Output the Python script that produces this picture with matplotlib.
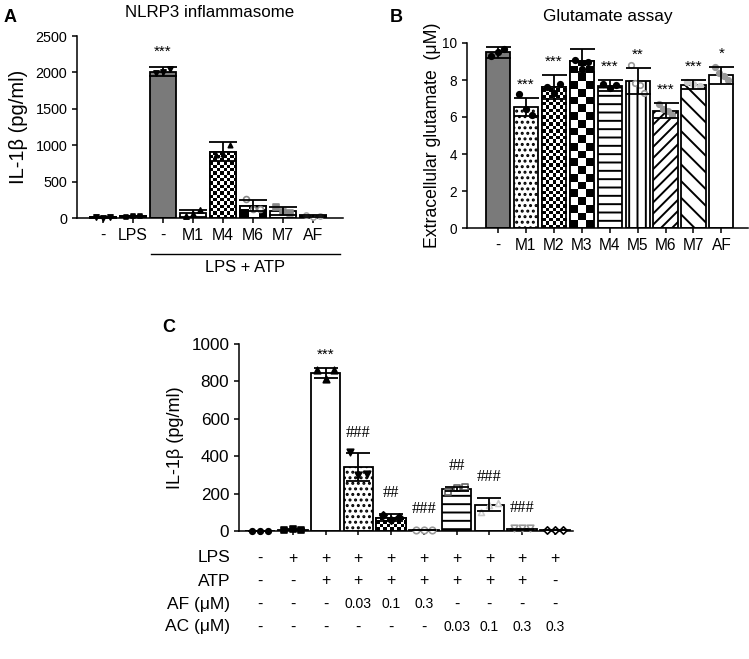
import numpy as np
import matplotlib
matplotlib.use("Agg")
import matplotlib.pyplot as plt
from matplotlib.transforms import blended_transform_factory

plt.rcParams['font.family'] = ['Liberation Sans', 'DejaVu Sans']
plt.rcParams['hatch.linewidth'] = 1.4
plt.rcParams['axes.linewidth'] = 1.1

# ---- panel A: NLRP3 inflammasome ----
a_labels = ['-', 'LPS', '-', 'M1', 'M4', 'M6', 'M7', 'AF']
a_means = [7, 25, 2010, 63, 910, 170, 100, 30]
a_sds = [6, 5, 60, 45, 130, 80, 55, 10]
a_points = [[12, 2, 8], [20, 25, 30], [1985, 2010, 2040], [30, 50, 110],
            [860, 880, 1000], [260, 120, 130], [150, 85, 65], [40, 20, 30]]
a_stars = ['', '', '***', '', '', '', '', '']

# ---- panel B: glutamate assay ----
b_labels = ['-', 'M1', 'M2', 'M3', 'M4', 'M5', 'M6', 'M7', 'AF']
b_means = [9.5, 6.55, 7.6, 9.05, 7.7, 7.95, 6.35, 7.75, 8.25]
b_sds = [0.3, 0.5, 0.65, 0.6, 0.3, 0.7, 0.4, 0.25, 0.45]
b_points = [[9.3, 9.5, 9.65], [7.25, 6.45, 6.1], [7.6, 7.3, 7.8], [9.1, 8.6, 9.0],
            [7.8, 7.55, 7.75], [8.8, 7.85, 7.75, 7.3], [6.7, 6.45, 6.3, 6.1],
            [7.9, 7.8, 7.7], [8.7, 8.4, 8.2, 8.0]]
b_stars = ['', '***', '***', '', '***', '**', '***', '***', '*']

# ---- panel C: IL-1b dose response ----
c_means = [0, 7, 845, 340, 72, 5, 225, 140, 10, 5]
c_sds = [0, 3, 25, 75, 18, 2, 12, 35, 3, 2]
c_points = [[0, 0, 0], [5, 10, 7], [860, 815, 860], [420, 300, 305], [85, 60, 75],
            [5, 5, 5], [210, 230, 235], [100, 140, 150], [15, 15, 15], [5, 5, 5]]
c_marks = ['', '', '***', '###', '##', '###', '##', '###', '###', '']
c_rows = ['LPS', 'ATP', 'AF (\u03bcM)', 'AC (\u03bcM)']
c_lps = ['-', '+', '+', '+', '+', '+', '+', '+', '+', '+']
c_atp = ['-', '-', '+', '+', '+', '+', '+', '+', '+', '-']
c_af = ['-', '-', '-', '0.03', '0.1', '0.3', '-', '-', '-', '-']
c_ac = ['-', '-', '-', '-', '-', '-', '0.03', '0.1', '0.3', '0.3']

W, H = 749, 659
fig = plt.figure(figsize=(W / 100, H / 100), dpi=100)


def px_axes(x0, x1, y_top, y_bot):
    return fig.add_axes([x0 / W, 1 - y_bot / H, (x1 - x0) / W, (y_bot - y_top) / H])


def checker(ax, rect, cell):
    # checkerboard texture clipped to a bar
    x0, y0 = rect.get_x(), rect.get_y()
    w, h = rect.get_width(), rect.get_height()
    p0 = ax.transData.transform((x0, y0))
    p1 = ax.transData.transform((x0 + w, y0 + h))
    nx = int(np.ceil(abs(p1[0] - p0[0]) / cell))
    ny = int(np.ceil(abs(p1[1] - p0[1]) / cell))
    if nx < 1 or ny < 1:
        return
    grid = (np.add.outer(np.arange(ny), np.arange(nx)) % 2).astype(float)
    cw = w / (abs(p1[0] - p0[0]) / cell)
    ch = h / (abs(p1[1] - p0[1]) / cell)
    im = ax.imshow(grid, cmap='gray', extent=(x0, x0 + nx * cw, y0, y0 + ny * ch),
                   origin='lower', interpolation='nearest', aspect='auto', zorder=1.5)
    im.set_clip_path(rect)


def draw_bars(ax, means, sds, points, styles, width, capsize, xlim, ylim):
    ax.set_xlim(*xlim)
    ax.set_ylim(*ylim)
    x = np.arange(len(means))
    for i, (m, st) in enumerate(zip(means, styles)):
        kind = st.get('kind', 'plain')
        face = st.get('face', 'white')
        b = ax.bar(x[i], m, width=width, color=face, edgecolor='black',
                   linewidth=1.3, hatch=st.get('hatch'), zorder=1)[0]
        if kind == 'checker':
            checker(ax, b, st['cell'])
            ax.bar(x[i], m, width=width, color='none', edgecolor='black',
                   linewidth=1.3, zorder=2)
        pts = points[i]
        offs = np.linspace(-width * 0.28, width * 0.28, len(pts))
        ax.scatter(x[i] + offs, pts, s=st.get('ms', 16), marker=st.get('marker', 'o'),
                   facecolor=st.get('mface', 'black'), edgecolor=st.get('medge', 'black'),
                   linewidth=1.2, zorder=3, clip_on=False)
        ax.errorbar(x[i], m, yerr=sds[i], color='black', capsize=capsize,
                    elinewidth=1.3, capthick=1.3, zorder=4, fmt='none')
    ax.spines['top'].set_visible(False)
    ax.spines['right'].set_visible(False)
    ax.tick_params(direction='out', length=3.5, width=1.1, colors='black')
    return x


def marks(ax, xs, means, sds, texts, off_star, off_hash):
    for i, s in enumerate(texts):
        if not s:
            continue
        if s.startswith('#'):
            ax.annotate(s, (xs[i], means[i] + sds[i]), xytext=(0, off_hash), textcoords='offset points',
                        ha='center', va='center', fontsize=11.8, family='Liberation Serif')
        else:
            ax.annotate(s, (xs[i], means[i] + sds[i]), xytext=(0, off_star), textcoords='offset points',
                        ha='center', va='center', fontsize=11)


# ---------- A ----------
axA = px_axes(77, 343, 36, 218)
a_styles = [dict(marker='v', ms=14), dict(marker='s', ms=10), dict(face='#7a7a7a', marker='v', ms=14),
            dict(marker='^', ms=14), dict(kind='checker', cell=3.3, marker='^', ms=10),
            dict(kind='checker', cell=9, mface='white', medge='#888888', ms=18),
            dict(marker='s', mface='#888888', medge='#888888', ms=14),
            dict(mface='white', medge='#aaaaaa', ms=14)]
xa = draw_bars(axA, a_means, a_sds, a_points, a_styles, 0.84, 10, (-0.87, 8.0), (0, 2500))
axA.set_yticks([0, 500, 1000, 1500, 2000, 2500])
axA.set_xticks(xa)
axA.set_xticklabels(a_labels, fontsize=11.4)
axA.tick_params(axis='y', labelsize=10.4)
axA.set_ylabel('IL-1\u03b2 (pg/ml)', fontsize=14.5, labelpad=5)
axA.set_title('NLRP3 inflammasome', fontsize=12.2, pad=13.5)
marks(axA, xa, a_means, a_sds, a_stars, 11, 15)
trA = blended_transform_factory(axA.transData, axA.transAxes)
axA.plot([1.6, 7.9], [-0.198, -0.198], color='black', lw=1.0, transform=trA, clip_on=False)
axA.text(4.73, -0.27, 'LPS + ATP', transform=trA, ha='center', va='center', fontsize=11.9)
fig.text(4 / W, 1 - 17 / H, 'A', fontsize=13, fontweight='bold', va='center', ha='left')

# ---------- B ----------
axB = px_axes(467, 748, 43, 228)
b_styles = [dict(face='#7a7a7a'), dict(hatch='...'), dict(kind='checker', cell=3.4),
            dict(kind='checker', cell=7.7), dict(hatch='--'),
            dict(hatch='||', mface='white', medge='#999999'),
            dict(hatch='///', mface='#999999', medge='#999999'),
            dict(hatch='\\\\', mface='#cccccc', medge='#cccccc'),
            dict(mface='#999999', medge='#999999')]
xb = draw_bars(axB, b_means, b_sds, b_points, b_styles, 0.86, 9, (-1.1, 8.95), (0, 10))
axB.set_yticks([0, 2, 4, 6, 8, 10])
axB.set_xticks(xb)
axB.set_xticklabels(b_labels, fontsize=11.2)
axB.tick_params(axis='y', labelsize=9.8)
axB.set_ylabel('Extracellular glutamate  (\u03bcM)', fontsize=12.7, labelpad=1)
axB.set_title('Glutamate assay', fontsize=12.4, pad=16)
marks(axB, xb, b_means, b_sds, b_stars, 9.5, 15)
fig.text(390 / W, 1 - 17 / H, 'B', fontsize=13, fontweight='bold', va='center', ha='left')

# ---------- C ----------
axC = px_axes(239, 573, 344, 531)
c_styles = [dict(marker='o'), dict(marker='s'), dict(marker='^', ms=22), dict(hatch='...', marker='v', ms=22),
            dict(kind='checker', cell=3.5, marker='D', ms=14),
            dict(mface='white', medge='#999999', ms=22),
            dict(hatch='--', marker='s', mface='white', medge='#666666', ms=22),
            dict(marker='^', mface='white', medge='#cccccc', ms=18),
            dict(marker='v', mface='white', medge='#999999', ms=22),
            dict(marker='D', mface='white', medge='black', ms=14)]
xc = draw_bars(axC, c_means, c_sds, c_points, c_styles, 0.9, 8.5, (-0.64, 9.55), (0, 1000))
axC.set_yticks([0, 200, 400, 600, 800, 1000])
axC.set_xticks(xc)
axC.set_xticklabels([])
axC.tick_params(axis='x', length=3)
axC.tick_params(axis='y', labelsize=12.3)
axC.set_ylabel('IL-1\u03b2 (pg/ml)', fontsize=13, labelpad=5)
marks(axC, xc, c_means, c_sds, c_marks, 10, 15)
trC = blended_transform_factory(axC.transData, fig.transFigure)
row_y = [558, 581, 604, 627]
for lab, vals, yy in zip(c_rows, [c_lps, c_atp, c_af, c_ac], row_y):
    fig.text(230 / W, 1 - yy / H, lab, ha='right', va='center', fontsize=12.5)
    for i, v in enumerate(vals):
        axC.text(xc[i], 1 - yy / H, v, transform=trC, ha='center', va='center',
                 fontsize=11.5 if v in '+-' else 10, clip_on=False)
fig.text(162 / W, 1 - 327 / H, 'C', fontsize=13, fontweight='bold', va='center', ha='left')

fig.savefig('out.png', dpi=100)
